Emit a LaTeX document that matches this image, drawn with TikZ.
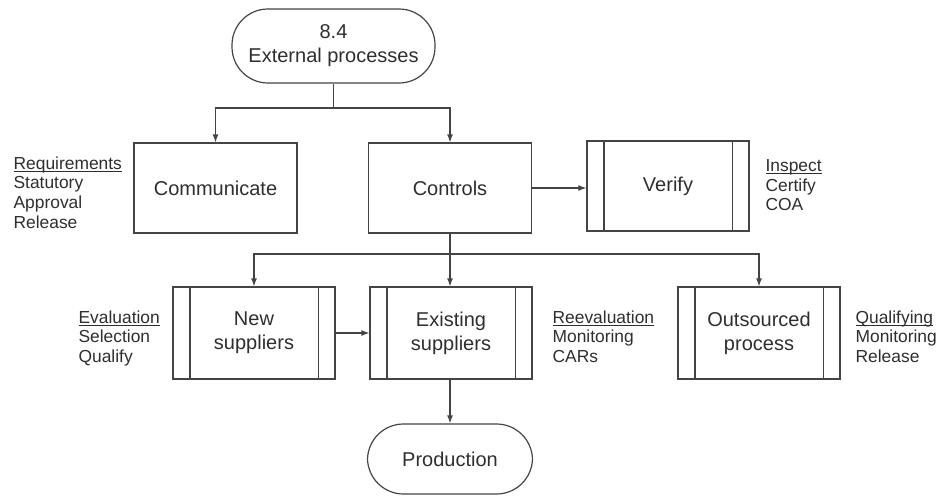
\documentclass[tikz,border=0pt]{standalone}
\usepackage{fontspec}
\setmainfont{Liberation Sans}
\usetikzlibrary{arrows.meta}
\definecolor{ink}{HTML}{444444}
\definecolor{txt}{HTML}{2E2E2E}
% underline set just below the baseline, adding no depth to the line
\newcommand\headword[1]{\setbox0\hbox{#1}\rlap{\rule[-2.2pt]{\wd0}{0.9pt}}\box0}
\begin{document}
\begin{tikzpicture}[x=1pt,y=-1pt,
  line width=1.2pt,
  every node/.style={text=txt},
  flow/.style={draw=ink, -{Latex[length=8pt,width=6pt]}},
  link/.style={draw=ink},
  box/.style={draw=ink, rectangle, inner sep=0pt, minimum width=163pt, minimum height=90pt,
    align=center, font=\fontsize{20}{24}\selectfont},
  subproc/.style={box, minimum width=162pt, minimum height=92pt},
  terminal/.style={draw=ink, rectangle, rounded corners=36pt, inner sep=0pt,
    align=center, font=\fontsize{20}{24}\selectfont},
  note/.style={anchor=north west, inner sep=0pt, align=left,
    font=\fontsize{17.4}{19.6}\selectfont}]
  \useasboundingbox (0,0) rectangle (938,501);

  % terminals
  \node[terminal, minimum width=203pt, minimum height=74pt] (top) at (333.5,46) {8.4\\External processes};
  \node[terminal, minimum width=165pt, minimum height=70pt] (prod) at (450,459) {Production};

  % upper row
  \node[box] (comm) at (215.5,188) {Communicate};
  \node[box] (ctrl) at (450,188) {Controls};
  \node[box, minimum width=162pt] (verify) at (668,186) {Verify};

  % lower row
  \node[subproc] (newsup) at (254,333) {New\\suppliers};
  \node[subproc] (exist) at (451,333) {Existing\\suppliers};
  \node[subproc] (outs) at (759,333) {Outsourced\\process};

  % double side bars of the predefined-process boxes
  \foreach \n in {verify,newsup,exist,outs}{
    \draw[ink] ([xshift=17.5pt]\n.north west) -- ([xshift=17.5pt]\n.south west);
    \draw[ink] ([xshift=-17.5pt]\n.north east) -- ([xshift=-17.5pt]\n.south east);
  }

  % side notes
  \node[note] (nreq) at (13,156) {\headword{Requirements}\\Statutory\\Approval\\Release};
  \node[note] (nins) at (765,159) {\headword{Inspect}\\Certify\\COA};
  \node[note] (neva) at (78,310) {\headword{Evaluation}\\Selection\\Qualify};
  \node[note] (nree) at (552,310) {\headword{Reevaluation}\\Monitoring\\CARs};
  \node[note] (nqua) at (855,310) {\headword{Qualifying}\\Monitoring\\Release};

  % connectors
  \coordinate (j1) at (333.5,108);
  \coordinate (j2) at (450,254);
  \draw[link] (top.south) -- (j1);
  \draw[flow] (j1) -| (comm.north);
  \draw[flow] (j1) -| (ctrl.north);
  \draw[flow] (ctrl.east) -- (ctrl.east -| verify.west);
  \draw[link] (ctrl.south) -- (j2);
  \draw[flow] (j2) -| (newsup.north);
  \draw[flow] (j2) -| (outs.north);
  \draw[flow] (j2) -- (j2 |- exist.north);
  \draw[flow] (newsup.east) -- (exist.west);
  \draw[flow] (exist.south -| prod.north) -- (prod.north);
\end{tikzpicture}
\end{document}
